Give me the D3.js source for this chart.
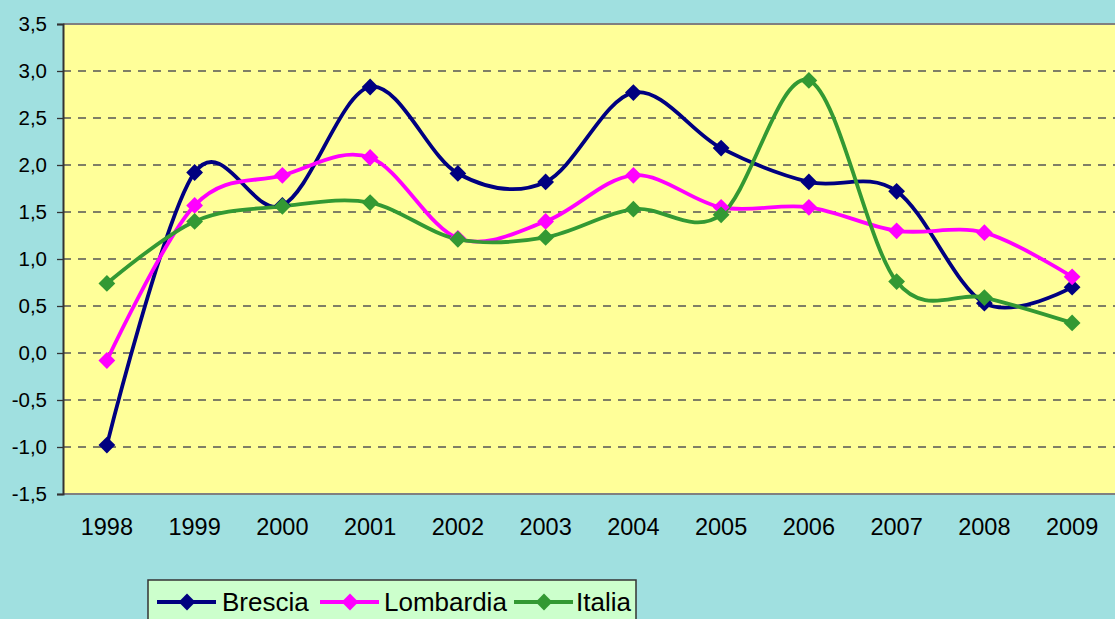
<!DOCTYPE html>
<html>
<head>
<meta charset="utf-8">
<script src="https://cdn.jsdelivr.net/npm/d3@7"></script>
<style>
  html, body { margin: 0; padding: 0; background: #a0e0e0; overflow: hidden; }
  svg { display: block; font-family: "Liberation Sans", Arial, sans-serif; }
</style>
</head>
<body>
<div id="chart"></div>
<script>

// data
var years = ["1998","1999","2000","2001","2002","2003","2004","2005","2006","2007","2008","2009"];
var brescia   = [-0.98, 1.92, 1.57, 2.83, 1.91, 1.82, 2.77, 2.18, 1.82, 1.72, 0.53, 0.70];
var lombardia = [-0.08, 1.57, 1.89, 2.08, 1.22, 1.40, 1.89, 1.55, 1.55, 1.30, 1.28, 0.81];
var italia    = [0.74, 1.40, 1.56, 1.60, 1.21, 1.23, 1.53, 1.47, 2.90, 0.76, 0.59, 0.32];
var seriesNames = ["Brescia", "Lombardia", "Italia"];
var seriesColors = ["#000080", "#ff00ff", "#339933"];
var yTicks = [-1.5, -1.0, -0.5, 0, 0.5, 1.0, 1.5, 2.0, 2.5, 3.0, 3.5];

var W = 1115, H = 619;
var margin = {top: 24, left: 63};
var plotW = 1053, plotH = 470;

var svg = d3.select("#chart")
  .append("svg")
    .attr("width", W)
    .attr("height", H);

svg.append("rect")
  .attr("width", W).attr("height", H)
  .attr("fill", "#a0e0e0");

var g = svg.append("g")
  .attr("transform", "translate(" + margin.left + "," + margin.top + ")");

var x = d3.scaleBand()
  .domain(years)
  .range([0, plotW]);

var y = d3.scaleLinear()
  .domain([-1.5, 3.5])
  .range([plotH, 0]);

// plot area
g.append("rect")
  .attr("width", plotW).attr("height", plotH)
  .attr("fill", "#ffff99");

// dashed grid
g.selectAll(".grid")
  .data(yTicks.filter(function(d) { return d > -1.5 && d < 3.5; }))
  .enter().append("line")
    .attr("x1", 0).attr("x2", plotW)
    .attr("y1", function(d) { return y(d); })
    .attr("y2", function(d) { return y(d); })
    .attr("stroke", "#555")
    .attr("stroke-width", 1.3)
    .attr("stroke-dasharray", "8,7");

// frame top / bottom
g.append("line").attr("x1", 0).attr("x2", plotW).attr("y1", 0).attr("y2", 0)
  .attr("stroke", "#808080").attr("stroke-width", 2);
g.append("line").attr("x1", 0).attr("x2", plotW).attr("y1", plotH).attr("y2", plotH)
  .attr("stroke", "#808080").attr("stroke-width", 2);

var fmt = function(d) { return d3.format(".1f")(d).replace(".", ",").replace("−", "-"); };

// y axis
var yAxis = g.append("g")
  .call(d3.axisLeft(y).tickValues(yTicks).tickSize(6).tickFormat(fmt));
yAxis.select(".domain").attr("stroke", "#333").attr("stroke-width", 2);
yAxis.selectAll(".tick line").attr("stroke", "#333").attr("stroke-width", 1.3);
yAxis.selectAll("text")
  .attr("x", -16)
  .style("font-size", "20.5px")
  .style("font-family", "Liberation Sans, Arial, sans-serif")
  .attr("fill", "#000");

// x axis labels
var xAxis = g.append("g")
  .attr("transform", "translate(0," + plotH + ")")
  .call(d3.axisBottom(x).tickSize(0).tickPadding(24));
xAxis.select(".domain").remove();
xAxis.selectAll("text")
  .style("font-size", "23.5px")
  .style("font-family", "Liberation Sans, Arial, sans-serif")
  .attr("fill", "#000");

var allSeries = [brescia, lombardia, italia];

var line = d3.line()
  .x(function(d, i) { return x(years[i]) + x.bandwidth() / 2; })
  .y(function(d) { return y(d); })
  .curve(d3.curveCatmullRom.alpha(0));

var diamond = d3.symbol().type(d3.symbolDiamond2).size(180);

allSeries.forEach(function(vals, k) {
  g.append("path")
    .datum(vals)
    .attr("fill", "none")
    .attr("stroke", seriesColors[k])
    .attr("stroke-width", 3.8)
    .attr("stroke-linejoin", "round")
    .attr("d", line);
});

allSeries.forEach(function(vals, k) {
  g.selectAll(".m" + k)
    .data(vals)
    .enter().append("path")
      .attr("d", diamond)
      .attr("transform", function(d, i) {
        return "translate(" + (x(years[i]) + x.bandwidth() / 2) + "," + y(d) + ")";
      })
      .attr("fill", seriesColors[k]);
});

// legend
var legend = svg.append("g").attr("transform", "translate(148,580)");
legend.append("rect")
  .attr("width", 488).attr("height", 50)
  .attr("fill", "#ccffcc")
  .attr("stroke", "#333").attr("stroke-width", 1.5);

var legX = [9, 172, 366];
var legTextX = [74, 236, 428];
seriesNames.forEach(function(name, k) {
  var item = legend.append("g");
  item.append("line")
    .attr("x1", legX[k]).attr("x2", legX[k] + 59)
    .attr("y1", 22).attr("y2", 22)
    .attr("stroke", seriesColors[k]).attr("stroke-width", 3.8);
  item.append("path")
    .attr("d", diamond)
    .attr("transform", "translate(" + (legX[k] + 30) + ",22)")
    .attr("fill", seriesColors[k]);
  item.append("text")
    .attr("x", legTextX[k])
    .attr("y", 31)
    .style("font-size", "26px")
    .text(name);
});

</script>
</body>
</html>
